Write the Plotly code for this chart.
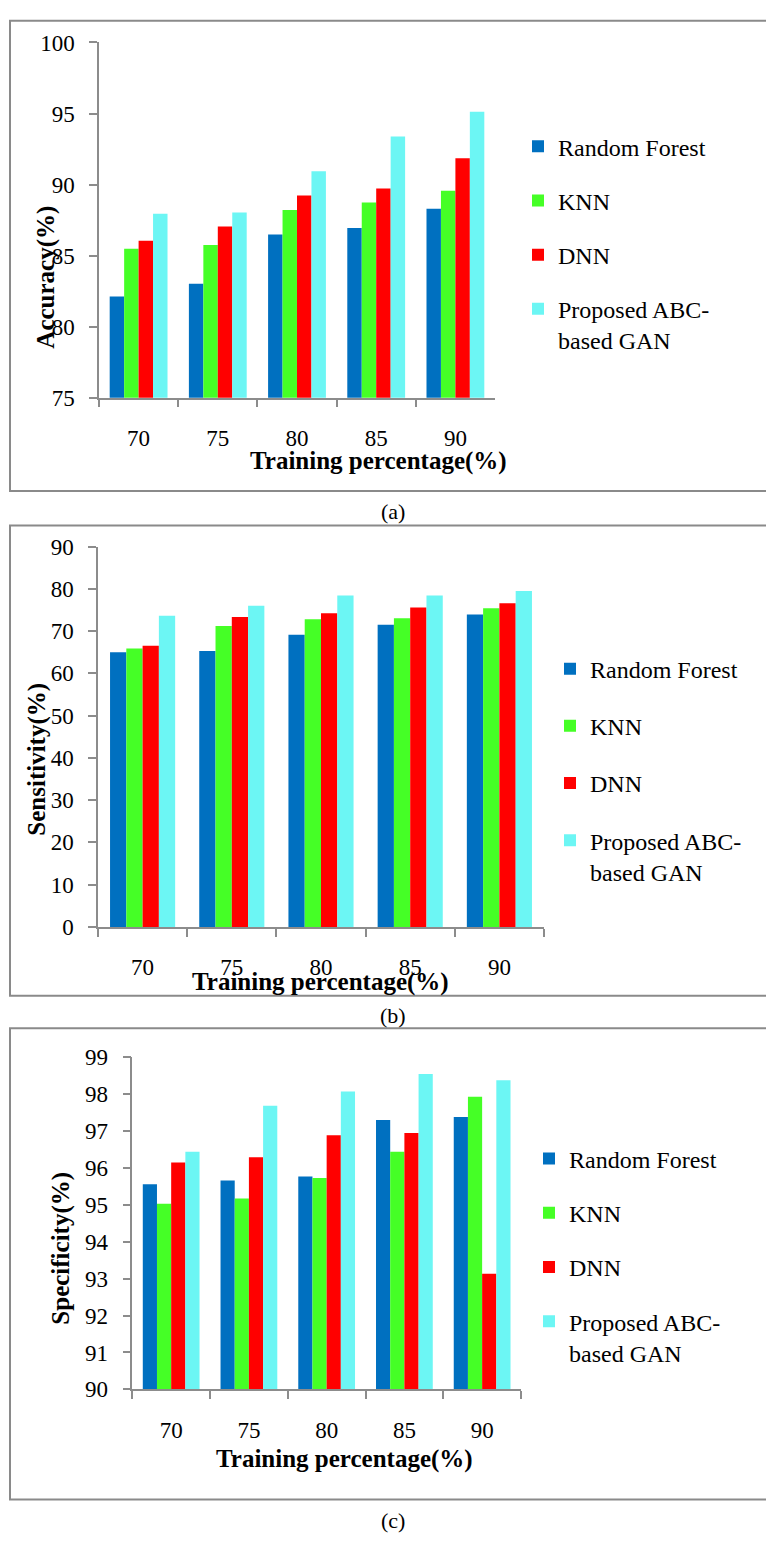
import plotly.graph_objects as go

W, H = 766, 1545

categories = ["70", "75", "80", "85", "90"]
series_names = ["Random Forest", "KNN", "DNN", "Proposed ABC-<br>based GAN"]
colors = ["#0070C0", "#45FF26", "#FF0000", "#6CF6F4"]

accuracy_rf = [82.12, 83.02, 86.48, 86.94, 88.30]
accuracy_knn = [85.49, 85.74, 88.21, 88.74, 89.57]
accuracy_dnn = [86.04, 87.04, 89.23, 89.73, 91.86]
accuracy_abc = [87.94, 88.03, 90.93, 93.38, 95.13]

sensitivity_rf = [65.0, 65.3, 69.1, 71.5, 73.9]
sensitivity_knn = [65.9, 71.2, 72.8, 73.0, 75.4]
sensitivity_dnn = [66.5, 73.3, 74.2, 75.6, 76.6]
sensitivity_abc = [73.6, 76.0, 78.4, 78.4, 79.5]

specificity_rf = [95.56, 95.66, 95.77, 97.30, 97.38]
specificity_knn = [95.03, 95.17, 95.73, 96.44, 97.93]
specificity_dnn = [96.15, 96.29, 96.89, 96.95, 93.13]
specificity_abc = [96.44, 97.69, 98.07, 98.55, 98.38]

SERIF = "Liberation Serif"
AXC = "#8c8c8c"


def px(x):
    return x / W


def py(y):
    return 1 - y / H


panels = [
    dict(data=[accuracy_rf, accuracy_knn, accuracy_dnn, accuracy_abc],
         ytitle="Accuracy(%)", rng=[75, 100], dtick=5,
         x0=99, x1=495, ytop=31, ybot=392,
         xt=(378, 456), yt=(46, 270), leg=(518, 114), gap=20,
         box=(9, 487), cap=("(a)", 393, 508)),
    dict(data=[sensitivity_rf, sensitivity_knn, sensitivity_dnn, sensitivity_abc],
         ytitle="Sensitivity(%)", rng=[0, 90], dtick=10,
         x0=98, x1=544, ytop=543.3, ybot=930,
         xt=(320, 986), yt=(37, 760), leg=(550, 645), gap=23,
         box=(522, 1000), cap=("(b)", 393, 1020)),
    dict(data=[specificity_rf, specificity_knn, specificity_dnn, specificity_abc],
         ytitle="Specificity(%)", rng=[90, 99], dtick=1,
         x0=132.3, x1=521, ytop=1062.5, ybot=1400,
         xt=(344, 1471), yt=(61, 1257), leg=(529, 1143), gap=20,
         box=(1033, 1512), cap=("(c)", 393, 1533)),
]

fig = go.Figure()
annotations = []
shapes = []
layout = {}

for i, p in enumerate(panels):
    n = "" if i == 0 else str(i + 1)
    legname = "legend" + n
    for j, (vals, name, col) in enumerate(zip(p["data"], series_names, colors)):
        fig.add_trace(go.Bar(
            x=categories, y=vals, name=name,
            marker=dict(color=col, line=dict(width=0)),
            xaxis="x" + n, yaxis="y" + n,
            legend=legname, legendgroup=f"p{i}s{j}",
        ))
    layout["xaxis" + n] = dict(
        domain=[px(p["x0"]), px(p["x1"])], anchor="y" + n,
        type="category", showline=True, linecolor=AXC, linewidth=1.5,
        ticks="outside", tickson="boundaries", ticklen=8, tickcolor=AXC, tickwidth=1.5,
        tickfont=dict(family=SERIF, size=23, color="black"),
        ticklabelstandoff=19, showgrid=False, zeroline=False,
    )
    layout["yaxis" + n] = dict(
        domain=[py(p["ybot"]), py(p["ytop"])], anchor="x" + n,
        range=p["rng"], dtick=p["dtick"], showline=True, linecolor=AXC, linewidth=1.5,
        ticks="outside", ticklen=8, tickcolor=AXC, tickwidth=1.5,
        tickfont=dict(family=SERIF, size=23, color="black"),
        ticklabelstandoff=10, showgrid=False, zeroline=False,
    )
    layout[legname] = dict(
        x=px(p["leg"][0]), y=py(p["leg"][1]), xanchor="left", yanchor="top",
        font=dict(family=SERIF, size=24, color="black"),
        bgcolor="rgba(0,0,0,0)", tracegroupgap=p["gap"], valign="top",
        traceorder="grouped",
    )
    annotations.append(dict(
        text="<b>Training percentage(%)</b>", x=px(p["xt"][0]), y=py(p["xt"][1]),
        xref="paper", yref="paper", showarrow=False, xanchor="center", yanchor="middle",
        font=dict(family=SERIF, size=25, color="black")))
    annotations.append(dict(
        text="<b>" + p["ytitle"] + "</b>", x=px(p["yt"][0]), y=py(p["yt"][1]),
        xref="paper", yref="paper", showarrow=False, xanchor="center", yanchor="middle",
        textangle=-90, font=dict(family=SERIF, size=25, color="black")))
    annotations.append(dict(
        text=p["cap"][0], x=px(p["cap"][1]), y=py(p["cap"][2]),
        xref="paper", yref="paper", showarrow=False, xanchor="center", yanchor="middle",
        font=dict(family=SERIF, size=22, color="black")))
    shapes.append(dict(
        type="rect", xref="paper", yref="paper",
        x0=px(10), x1=px(780), y0=py(p["box"][1]), y1=py(p["box"][0]),
        line=dict(color="#8a8a8a", width=2), fillcolor="rgba(0,0,0,0)"))

fig.update_layout(
    width=W, height=H, margin=dict(l=0, r=0, t=0, b=0),
    font=dict(family=SERIF, color="black"),
    paper_bgcolor="white", plot_bgcolor="white",
    bargap=0.27, bargroupgap=0,
    barmode="group",
    annotations=annotations, shapes=shapes,
    showlegend=True,
    **layout,
)

fig.write_html("out.html")
